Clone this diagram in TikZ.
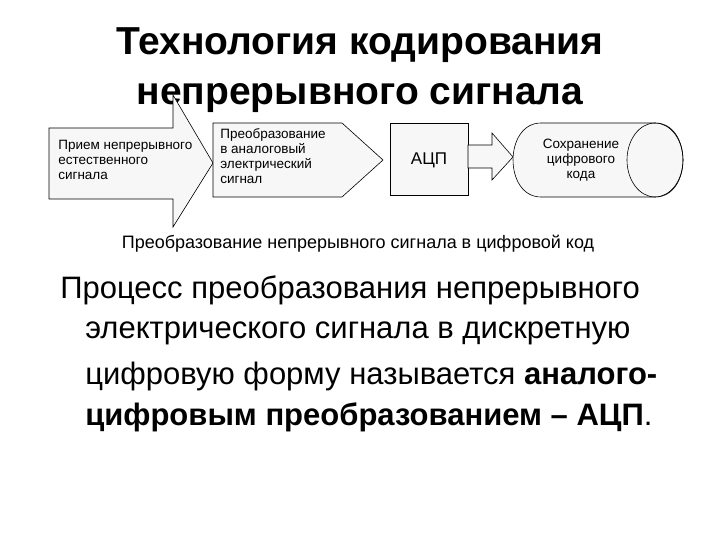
\documentclass[tikz,border=0pt]{standalone}
\usepackage{fontspec}
\setmainfont{Liberation Sans}
\begin{document}
\begin{tikzpicture}[x=1pt,y=-1pt,line width=0.6pt,
 lbl/.style={font=\fontsize{13.5}{15}\selectfont,align=left,anchor=north west,inner sep=0pt},
 body/.style={font=\fontsize{31}{43}\selectfont,anchor=west,inner sep=0pt}]
\path[use as bounding box] (0,0) rectangle (720,540);
\node[font=\bfseries\fontsize{39}{50}\selectfont,align=center] (title) at (360,70) {Технология кодирования\\непрерывного сигнала};
\draw[fill=gray!6] (49,128) -- (173,128) -- (173,95) -- (213,163) -- (173,227) -- (173,199) -- (49,199) -- cycle;
\node[lbl] (t1) at (58,140) {Прием непрерывного\\естественного\\сигнала};
\draw[fill=gray!6] (213,123) -- (342,123) -- (383,160) -- (342,197) -- (213,197) -- cycle;
\node[lbl] (t2) at (220,128) {Преобразование\\в аналоговый\\электрический\\сигнал};
\draw[fill=gray!6] (390,123) rectangle (468,195);
\node[font=\fontsize{17}{18}\selectfont] (adc) at (429,160) {АЦП};
\draw[fill=gray!6] (468,145) -- (492,145) -- (492,133) -- (513,157) -- (492,180) -- (492,168) -- (468,168) -- cycle;
\draw[fill=gray!6] (541,123) -- (655,123) .. controls (692.3,123) and (692.3,197) .. (655,197) -- (541,197) .. controls (503.7,197) and (503.7,123) .. (541,123) -- cycle;
\draw (655,160) ellipse[x radius=28,y radius=37];
\node[font=\fontsize{13.5}{15}\selectfont,align=center] (t3) at (581,160) {Сохранение\\цифрового\\кода};
\node[font=\fontsize{18}{19}\selectfont] (cap) at (358,244) {Преобразование непрерывного сигнала в цифровой код};
\node[body] (b1) at (60,290) {Процесс преобразования непрерывного};
\node[body] (b2) at (85,333) {электрического сигнала в дискретную};
\node[body] (b3) at (85,376) {цифровую форму называется \textbf{аналого-}};
\node[body] (b4) at (85,417) {\textbf{цифровым преобразованием – АЦП}.};
\end{tikzpicture}
\end{document}
